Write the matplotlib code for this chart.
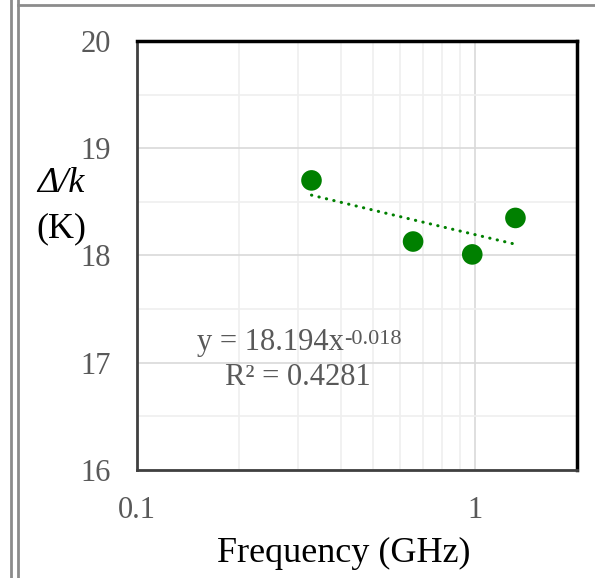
import numpy as np
import matplotlib
matplotlib.use('Agg')
import matplotlib.pyplot as plt
from matplotlib.ticker import FixedLocator, NullFormatter, FixedFormatter
from matplotlib.lines import Line2D

plt.rcParams['font.family'] = ['Liberation Serif', 'DejaVu Serif']

# data
freq = [0.328, 0.655, 0.98, 1.315]
gap = [18.70, 18.13, 18.01, 18.35]
# power-law trendline from the chart label
coef = 18.194
expo = -0.018
r2 = 0.4281

green = '#008000'
grey = '#595959'

fig = plt.figure(figsize=(5.95, 5.78), dpi=100)
ax = fig.add_axes([0.2303, 0.1869, 0.7395, 0.7422])

ax.set_xscale('log')
ax.set_xlim(0.1, 2.0)
ax.set_ylim(16, 20)

ax.xaxis.set_major_locator(FixedLocator([0.1, 1]))
ax.xaxis.set_major_formatter(FixedFormatter(['0.1', '1']))
ax.xaxis.set_minor_locator(FixedLocator([0.2, 0.3, 0.4, 0.5, 0.6, 0.7, 0.8, 0.9, 2]))
ax.xaxis.set_minor_formatter(NullFormatter())
ax.yaxis.set_major_locator(FixedLocator([16, 17, 18, 19, 20]))
ax.yaxis.set_minor_locator(FixedLocator([16.5, 17.5, 18.5, 19.5]))

ax.grid(which='major', color='#d9d9d9', lw=1.2)
ax.grid(which='minor', color='#efefef', lw=1.2)
ax.set_axisbelow(True)
ax.tick_params(which='both', length=0, labelsize=22, labelcolor=grey)
ax.tick_params(axis='x', pad=19)
ax.tick_params(axis='y', pad=19)

for s in ['top', 'right']:
    ax.spines[s].set_color('black')
    ax.spines[s].set_linewidth(2.5)
for s in ['left', 'bottom']:
    ax.spines[s].set_color('#404040')
    ax.spines[s].set_linewidth(2.0)

xs = np.linspace(min(freq), max(freq), 50)
ax.plot(xs, coef * xs ** expo, color=green, lw=2.2, ls=(0, (0.1, 2.4)),
        dash_capstyle='round')
ax.scatter(freq, gap, s=220, color=green, zorder=3, edgecolors='none')

t = fig.text(0.331, 0.394, 'y = %.3fx' % coef, fontsize=22, color=grey,
             ha='left', va='baseline')
ax.annotate('%.3f' % expo, xy=(1, 1), xycoords=t, xytext=(0.5, -1),
            textcoords='offset points', fontsize=16, color=grey,
            ha='left', va='top')
fig.text(0.378, 0.334, 'R² = %.4f' % r2, fontsize=22, color=grey,
         ha='left', va='baseline')

fig.text(0.578, 0.043, 'Frequency (GHz)', fontsize=26, ha='center', va='center')
fig.text(0.103, 0.683, 'Δ/k', fontsize=26, style='italic', ha='center', va='center')
fig.text(0.103, 0.604, '(K)', fontsize=26, ha='center', va='center')

# surrounding page borders
for xx in [0.018, 0.031]:
    fig.add_artist(Line2D([xx, xx], [0, 1], color='#8c8c8c', lw=2.0))
fig.add_artist(Line2D([0.031, 1], [0.991, 0.991], color='#8c8c8c', lw=2.0))

fig.savefig('out.png', dpi=100)
